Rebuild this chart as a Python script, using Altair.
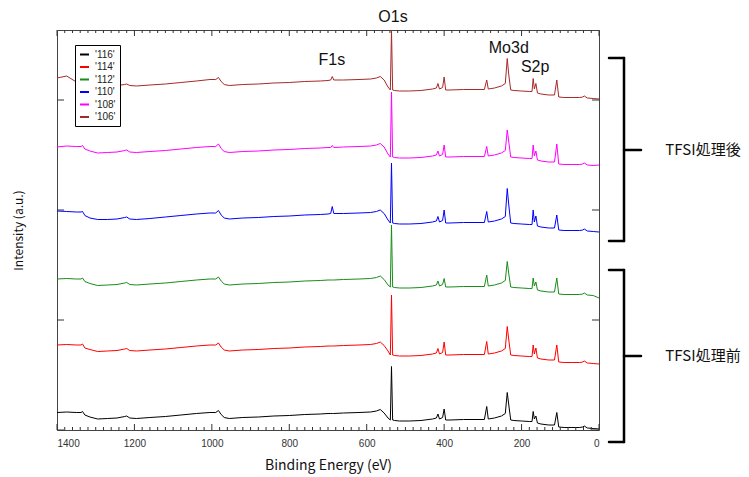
import altair as alt
import pandas as pd

# ---------------- data ----------------
energy = [1400, 1375, 1350, 1338, 1334, 1328, 1315, 1295, 1270, 1245, 1225, 1220, 1212, 1195,
          1160, 1120, 1080, 1040, 1005, 990, 983, 976, 968, 955, 920, 880, 840, 800, 760, 720,
          700, 693, 689, 685, 660, 620, 590, 575, 565, 555, 545, 539, 536, 533, 528, 515, 490,
          460, 430, 420, 416, 412, 404, 400, 396, 385, 350, 310, 296, 290, 286, 270, 252, 242,
          237, 233, 228, 220, 200, 180, 173, 170, 167, 163, 159, 150, 130, 115, 109, 104, 90,
          70, 50, 42, 38, 30, 15, 0]

s116 = [17.5, 18, 17.5, 17.5, 18.5, 15, 13, 11, 11.5, 12, 13.5, 14, 12, 11.5,
        12.5, 13.5, 15, 16.5, 17.5, 17.5, 19.5, 15.5, 12.5, 11.5, 12.5, 13, 14, 14.5, 15.5, 16,
        16.5, 16.5, 16.5, 16.5, 17, 17.5, 18, 19, 20.5, 17, 12, 10, 63.5, 10, 9.5, 9, 9,
        9.5, 11, 12, 16, 11, 12.5, 21, 10, 10, 10.5, 10.5, 10.5, 23.5, 11, 12, 14, 16.5,
        37.5, 25, 10, 9.5, 9, 8.5, 8.5, 18.5, 11, 14, 7, 6, 5, 5, 17.5, 3, 2.5,
        2.5, 2.5, 3, 4, 2, 1.5, 1]
s114 = [85, 85.5, 85, 85, 86, 82, 80.5, 78.5, 79, 79.5, 81, 81.5, 79.5, 79,
        80, 81, 82.5, 84, 85, 85, 87, 83, 80, 79, 80, 80.5, 81.5, 82, 83, 83.5,
        84, 84, 84, 84, 84.5, 85, 85.5, 86.5, 88, 84.5, 79, 75, 135, 75, 74.5, 74, 74,
        74.5, 76, 77, 81.5, 76, 77.5, 88, 75, 75, 75.5, 75.5, 75.5, 88.5, 76, 77, 79, 81.5,
        103.5, 90, 75, 74.5, 74, 73.5, 73.5, 85, 76, 82, 72, 71, 70, 70, 85, 68, 67.5,
        67.5, 67.5, 68, 69, 67, 66.5, 66]
s112 = [151, 151.5, 151, 151, 152, 148.5, 146.5, 144.5, 145, 145.5, 147, 147.5, 145.5, 145,
        146, 147, 148.5, 150, 151, 151, 153, 149, 146, 145, 146, 146.5, 147.5, 148, 149, 149.5,
        150, 150, 150, 150, 150.5, 151, 151.5, 152.5, 154, 150.5, 145, 143, 205, 143, 142.5, 142, 142,
        142.5, 144, 145, 149, 144, 145.5, 151.5, 143, 143, 143.5, 143.5, 143.5, 155, 144, 145, 147, 149.5,
        168.5, 156, 143, 142.5, 142, 141.5, 141.5, 152, 144, 148, 140, 139, 138, 138, 152, 136, 135.5,
        135.5, 135.5, 136, 137, 135, 134.5, 132]
s110 = [219, 218.5, 218, 218, 218.5, 214.5, 212, 210.5, 210.5, 211, 212.5, 213, 211, 210.5,
        211.5, 213, 214.5, 216, 217, 217, 219.5, 215, 212, 211, 212, 212.5, 213.5, 214, 215, 215.5,
        216, 216.5, 223.5, 216.5, 216.5, 217, 217.5, 218.5, 220, 216.5, 210, 207, 267, 207, 206.5, 206, 206,
        206.5, 208, 209, 213.5, 208, 209.5, 220, 207, 207, 207.5, 207.5, 207.5, 218.5, 208, 209, 211, 213.5,
        241.5, 225, 207, 206.5, 206, 205.5, 205.5, 220, 208, 214, 204, 203, 202, 202, 215, 200, 199.5,
        199.5, 199.5, 200, 201, 199, 198.5, 198]
s108 = [283, 284, 283.5, 283.5, 284.5, 281, 279, 277, 277.5, 278, 279.5, 280, 278, 277.5,
        278.5, 279.5, 281, 282.5, 283.5, 283.5, 286, 281.5, 278.5, 277.5, 278.5, 279, 280, 280.5, 281.5, 282,
        282.5, 282.5, 284.5, 282.5, 283, 283.5, 284, 285, 286.5, 283, 276, 273, 338, 273, 272.5, 272, 272,
        272.5, 274, 275, 279, 274, 275.5, 285, 273, 273, 273.5, 273.5, 273.5, 283.5, 274, 275, 277, 279.5,
        300, 288, 273, 272.5, 272, 271.5, 271.5, 285, 274, 279, 270, 269, 268, 268, 286, 266, 265.5,
        265.5, 265.5, 266, 267, 265, 264.5, 265]
s106 = [352, 354, 348, 346, 346.5, 345, 344.5, 344, 344, 344.5, 345.5, 346, 344.5, 344,
        345, 346, 347.5, 349, 350.5, 350.5, 352.5, 348.5, 345.5, 344.5, 345.5, 346, 347, 347.5, 348.5, 349,
        349.5, 350, 353.5, 350, 350, 350.5, 351, 352, 353.5, 350, 343, 340, 400, 340, 339.5, 339, 339,
        339.5, 341, 342, 346.5, 341, 342.5, 353, 340, 340, 340.5, 340.5, 340.5, 350, 341, 342, 344, 346.5,
        371.5, 355, 340, 339.5, 339, 338.5, 338.5, 351.5, 341, 346.5, 337, 336, 335, 335, 350, 333, 332.5,
        332.5, 332.5, 333, 334, 332, 331.5, 331]

series_names = ["'116'", "'114'", "'112'", "'110'", "'108'", "'106'"]
series_colors = ["#000000", "#ff0000", "#1a8c1a", "#0000ff", "#ff00ff", "#a52a2a"]
series_values = [s116, s114, s112, s110, s108, s106]

x_major = [1400, 1200, 1000, 800, 600, 400, 200, 0]
x_minor = [e for e in range(0, 1401, 20) if e % 200 != 0]
y_ticks = [0, 110, 220, 330]

peak_labels = ["O1s", "F1s", "Mo3d", "S2p"]
peak_energy = [532, 690, 233, 165]
peak_level = [413, 370, 382, 363]

# ---------------- build ----------------
rows = []
for name, vals in zip(series_names, series_values):
    for e, v in zip(energy, vals):
        rows.append({"energy": e, "intensity": v, "series": name})
df = pd.DataFrame(rows)

W, H = 542, 400
xscale = alt.Scale(domain=[1400, 0], nice=False, zero=False)
yscale = alt.Scale(domain=[0, 400], nice=False, zero=False)

x_axis = alt.Axis(values=x_major, format="d", ticks=False, domain=False, grid=False,
                  labelPadding=8, labelFontSize=10, labelColor="#333",
                  labelFont="Liberation Sans",
                  title="Binding Energy (eV)", titleFont="Noto Sans CJK JP",
                  titleFontSize=14, titleFontWeight="normal", titleColor="#111",
                  titlePadding=10)
y_axis = alt.Axis(labels=False, ticks=False, domain=False, grid=False,
                  title="Intensity (a.u.)", titleFont="Noto Sans CJK JP",
                  titleFontSize=12, titleFontWeight="normal", titleColor="#111",
                  titlePadding=32)

lines = alt.Chart(df).mark_line(strokeWidth=1, clip=True).encode(
    x=alt.X("energy:Q", scale=xscale, axis=x_axis),
    y=alt.Y("intensity:Q", scale=yscale, axis=y_axis),
    color=alt.Color("series:N", sort=series_names,
                    scale=alt.Scale(domain=series_names, range=series_colors),
                    legend=alt.Legend(orient="none", legendX=18, legendY=15, title=None,
                                      symbolType="stroke", symbolSize=81, symbolStrokeWidth=2,
                                      labelFontSize=10, labelFont="Liberation Sans",
                                      labelColor="#222", strokeColor="#000", fillColor="white",
                                      padding=4, rowPadding=1.5, labelOffset=5)),
    detail="series:N",
)

minor_df = pd.DataFrame({"energy": x_minor})
major_df = pd.DataFrame({"energy": x_major})
ytick_df = pd.DataFrame({"intensity": y_ticks})

def xticks(data, y0, y1):
    return alt.Chart(data).mark_rule(color="#333", strokeWidth=1).encode(
        x=alt.X("energy:Q", scale=xscale, axis=x_axis),
        y=alt.value(y0), y2=alt.value(y1))

def yticks(x0, x1):
    return alt.Chart(ytick_df).mark_rule(color="#333", strokeWidth=1).encode(
        y=alt.Y("intensity:Q", scale=yscale, axis=y_axis),
        x=alt.value(x0), x2=alt.value(x1))

tick_layers = [
    xticks(minor_df, H, H - 3), xticks(major_df, H, H - 6),
    xticks(minor_df, 0, 3), xticks(major_df, 0, 6),
    yticks(0, 7), yticks(W, W - 7),
]

peaks_df = pd.DataFrame({"energy": peak_energy, "intensity": peak_level, "label": peak_labels})
peak_text = alt.Chart(peaks_df).mark_text(font="Liberation Sans", fontSize=16, color="#111",
                                          baseline="middle", align="center").encode(
    x=alt.X("energy:Q", scale=xscale, axis=x_axis),
    y=alt.Y("intensity:Q", scale=yscale, axis=y_axis),
    text="label:N")

# bracket annotations (outside the plot area, pixel positions relative to plot origin)
one = pd.DataFrame({"a": [0]})
segments = [
    # upper bracket
    (552, 567, 28, 28), (567, 567, 28, 211), (552, 567, 211, 211), (567, 584, 120, 120),
    # lower bracket
    (552, 567, 240, 240), (567, 567, 240, 412), (552, 567, 412, 412), (567, 584, 326, 326),
]
bracket_layers = []
for x0, x1, y0, y1 in segments:
    bracket_layers.append(
        alt.Chart(one).mark_rule(color="#000", strokeWidth=2.5, strokeCap="round").encode(
            x=alt.value(x0), x2=alt.value(x1), y=alt.value(y0), y2=alt.value(y1)))

group_labels = ["TFSI処理後", "TFSI処理前"]
group_y = [120, 326]
group_layers = [
    alt.Chart(one).mark_text(text=t, font="Noto Sans CJK JP", fontSize=15, color="#111",
                             align="center", baseline="middle").encode(
        x=alt.value(646), y=alt.value(gy))
    for t, gy in zip(group_labels, group_y)
]

chart = alt.layer(lines, *tick_layers, peak_text, *bracket_layers, *group_layers).properties(
    width=W, height=H,
    autosize=alt.AutoSizeParams(type="none"),
    padding={"left": 57, "top": 30, "right": 150, "bottom": 47},
    background="white",
).configure_view(stroke="#444", strokeWidth=1)

chart.save("out.html", embed_options={"renderer": "svg", "actions": False})
